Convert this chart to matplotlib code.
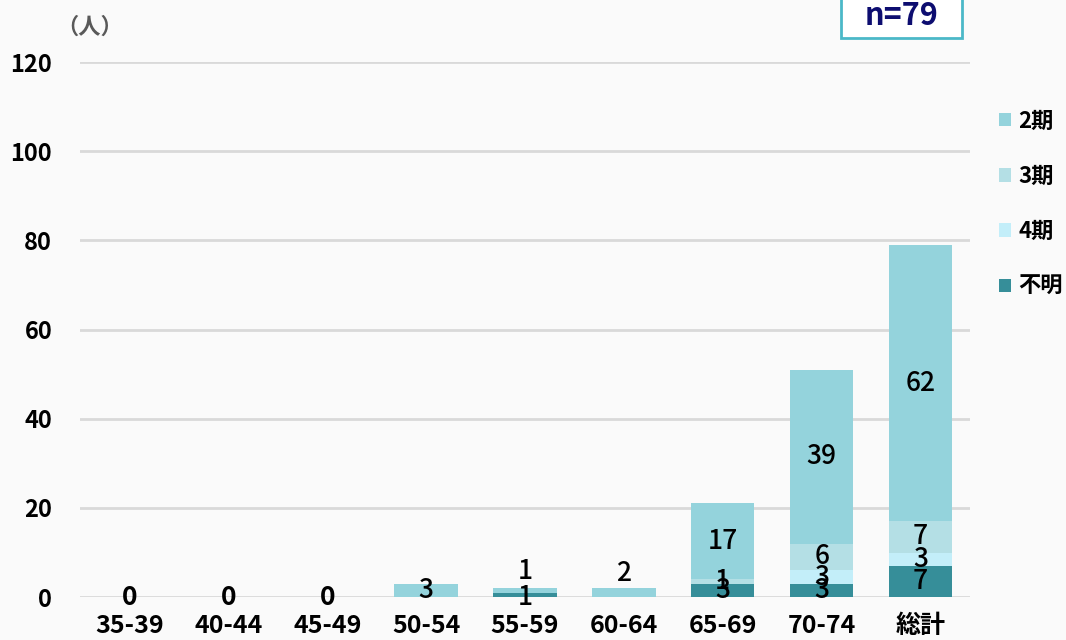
import matplotlib
matplotlib.use("Agg")
import matplotlib.pyplot as plt
from matplotlib.patches import Patch, Rectangle
import numpy as np

plt.rcParams['font.family'] = ['Noto Sans CJK JP', 'DejaVu Sans']

categories = ["35-39", "40-44", "45-49", "50-54", "55-59", "60-64", "65-69", "70-74", "総計"]
unknown = [0, 0, 0, 0, 1, 0, 3, 3, 7]
stage4 = [0, 0, 0, 0, 0, 0, 0, 3, 3]
stage3 = [0, 0, 0, 0, 0, 0, 1, 6, 7]
stage2 = [0, 0, 0, 3, 1, 2, 17, 39, 62]
series_names = ["不明", "4期", "3期", "2期"]
n_total = 79

colors = {"不明": "#368E99", "4期": "#C3EEF9", "3期": "#B4DFE5", "2期": "#94D3DC"}
# manual vertical nudges (in data units) for crowded labels
label_nudge = {(4, "2期"): 4.3, (5, "2期"): 4.4, (4, "不明"): -0.5}

fig = plt.figure(figsize=(10.66, 6.4), dpi=100, facecolor="#FAFAFA")
ax = fig.add_axes([0.075, 0.067, 0.835, 0.836], facecolor="#FAFAFA")

x = np.arange(len(categories))
width = 0.64
bottom = np.zeros(len(categories))
values = {"不明": unknown, "4期": stage4, "3期": stage3, "2期": stage2}
for name in series_names:
    v = np.array(values[name], dtype=float)
    ax.bar(x, v, width, bottom=bottom, color=colors[name], zorder=3)
    for i, val in enumerate(v):
        if val > 0:
            y = bottom[i] + val / 2 + label_nudge.get((i, name), 0)
            ax.text(x[i], y, f"{int(val)}", ha="center", va="center",
                    fontsize=19, fontweight="medium", color="black", zorder=5)
    bottom += v

totals = bottom
for i, t in enumerate(totals):
    if t == 0:
        ax.text(x[i], 0, "0", ha="center", va="center", fontsize=19,
                fontweight="bold", color="black", zorder=5)

ax.set_xlim(-0.5, len(categories) - 0.5)
ax.set_ylim(0, 120)
ax.set_yticks(range(0, 121, 20))
ax.yaxis.grid(True, color="#D9D9D9", linewidth=2, zorder=0)
for s in ax.spines.values():
    s.set_visible(False)
ax.tick_params(axis="both", length=0)
ax.tick_params(axis="y", pad=20, labelsize=17)
ax.tick_params(axis="x", pad=12, labelsize=18)
ax.set_xticks(x)
ax.set_xticklabels(categories, fontweight="bold")
for lab in ax.get_yticklabels():
    lab.set_fontweight("bold")

fig.text(0.084, 0.958, "（人）", ha="center", va="center", fontsize=16,
         fontweight="bold", color="#595959")

# sample-size box, its top edge running off the figure
fig.add_artist(Rectangle((0.789, 0.94), 0.113, 0.1, transform=fig.transFigure,
                         facecolor="white", edgecolor="#4BB8C8", linewidth=2))
fig.text(0.8455, 0.975, f"n={n_total}", ha="center", va="center", fontsize=22,
         fontweight="bold", color="#0D0D70")

handles = [Patch(facecolor=colors[n], edgecolor="none") for n in ["2期", "3期", "4期", "不明"]]
leg = fig.legend(handles, ["2期", "3期", "4期", "不明"], loc="upper left",
                 bbox_to_anchor=(0.918, 0.86), frameon=False,
                 prop=dict(size=16, weight="bold"), handlelength=0.55,
                 handleheight=0.55, handletextpad=0.35, labelspacing=1.45)

fig.savefig("out.png", dpi=100, facecolor=fig.get_facecolor())
